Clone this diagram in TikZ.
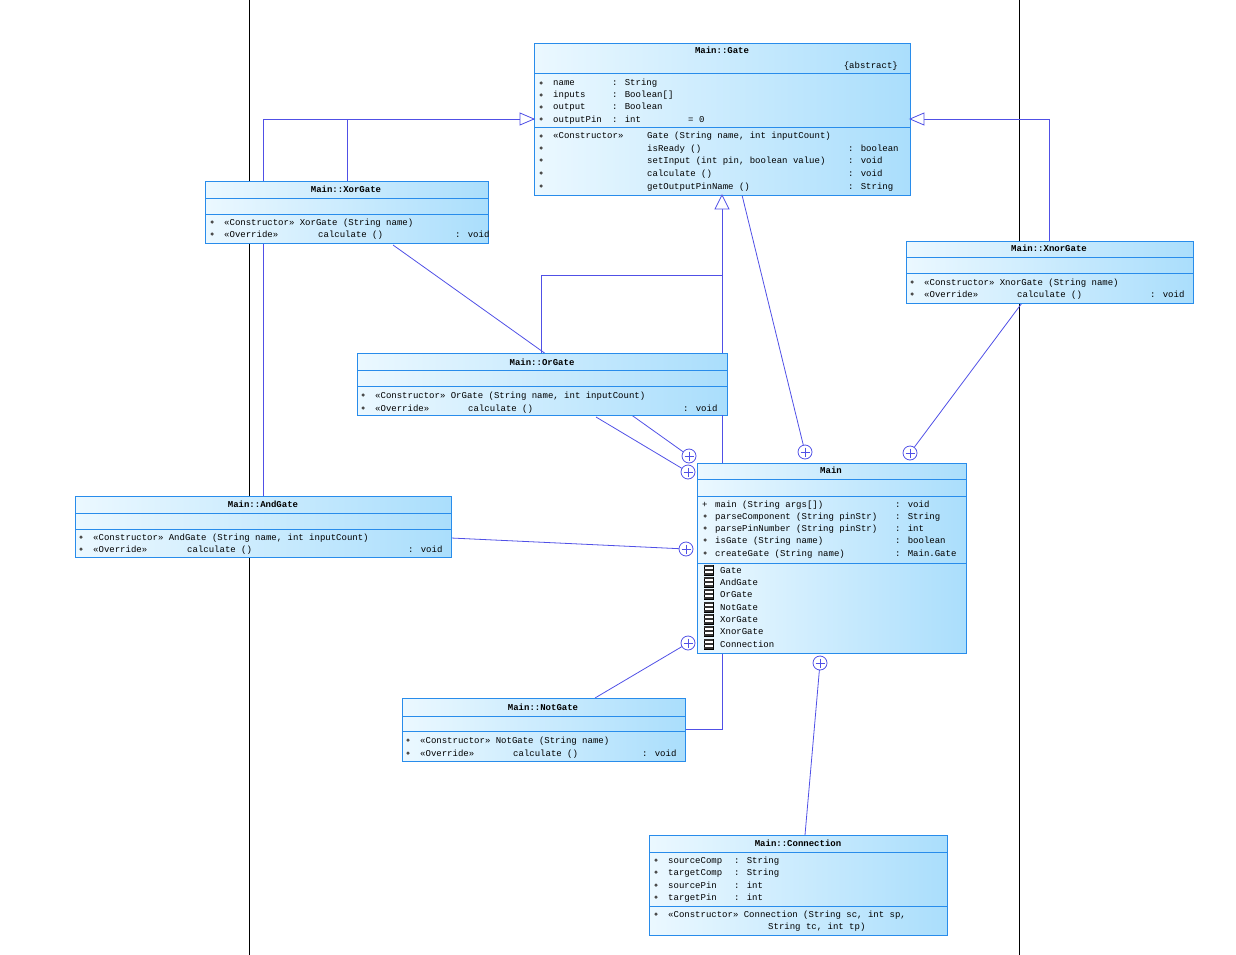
\documentclass[tikz,border=0pt]{standalone}
\usepackage{fontspec}
\usetikzlibrary{calc}
\setmainfont{Liberation Mono}
\begin{document}
\definecolor{bord}{RGB}{40,140,235}
\definecolor{lnk}{RGB}{80,80,230}
\definecolor{lL}{RGB}{235,248,255}
\definecolor{lR}{RGB}{170,222,252}
\tikzset{box/.style={draw=bord,line width=1pt,left color=lL,right color=lR,rectangle,inner sep=0,anchor=north west},
 sep/.style={draw=bord,line width=1pt},
 link/.style={draw=lnk,line width=0.8pt},
 tri/.style={draw=lnk,fill=white,line width=0.8pt},
 tx/.style={anchor=base west,inner sep=0,font=\fontsize{9}{10}\selectfont},
 ti/.style={anchor=base,inner sep=0,font=\fontsize{9}{10}\selectfont\bfseries},
 bul/.style={fill=black!70,circle,inner sep=0,minimum size=3.5pt}}
\newcommand\tl[3]{\node[tx] at (#1,#2+3) {#3};}
\newcommand\bu[2]{\node[bul] at (#1,#2) {};}
\newcommand\ubox[5]{\node[box,minimum width=#4-#2,minimum height=#5-#3] (#1) at (#2,#3) {};}
\newcommand\hsep[3]{\draw[sep] (#1,#3)--(#2,#3);}
\newcommand\nest[1]{\draw[lnk,line width=0.8pt,fill=white] (#1) circle (7); \draw[lnk,line width=0.8pt] ($(#1)+(-4.5,0)$)--($(#1)+(4.5,0)$) ($(#1)+(0,-4.5)$)--($(#1)+(0,4.5)$);}
\newcommand\ico[2]{\draw[black,fill=white,line width=0.6pt] (#1,#2-5) rectangle (#1+9,#2+5); \fill[black!80] (#1,#2-5) rectangle (#1+9,#2-3); \fill[black!80] (#1,#2-1) rectangle (#1+9,#2+1);\fill[black!80] (#1,#2+3) rectangle (#1+9,#2+5);}
\begin{tikzpicture}[x=1pt,y=-1pt]
\useasboundingbox (0,0) rectangle (1236,955);
\draw[black,line width=0.8pt] (249,0)--(249,955) (1019,0)--(1019,955);
% coordinates
\coordinate (gL) at (534,119); \coordinate (gR) at (910,119); \coordinate (gB) at (722,195);
\coordinate (mXor) at (689,456); \coordinate (mOr) at (688,472); \coordinate (mAnd) at (686,549);
\coordinate (mNot) at (688,643); \coordinate (mCon) at (820,663); \coordinate (mGate) at (805,452); \coordinate (mXnor) at (910,453);
% generalization links
\draw[link] (263,496)--(263,119)--(gL); \draw[link] (347,181)--(347,119);
\draw[link] (1049,241)--(1049,119)--(gR);
\draw[link] (541,353)--(541,275)--(722,275); \draw[link] (685,729)--(722,729)--(gB);
% nesting links
\draw[link] (742,195)--(mGate); \draw[link] (1022,303)--(mXnor);
\draw[link] (393,245)--(mXor); \draw[link] (596,417)--(mOr);
\draw[link] (451,538)--(mAnd); \draw[link] (595,698)--(mNot); \draw[link] (805,835)--(mCon);
% Gate
\ubox{gate}{534}{43}{910}{195}\hsep{534}{910}{74}\hsep{534}{910}{128}
\node[ti] at (722,54) {Main::Gate}; \node[tx,anchor=base east] at (898,69) {\{abstract\}};
\foreach \y/\a/\b in {83/name/: String,95/inputs/: Boolean[],107/output/: Boolean,119/outputPin/: int}{\bu{541}{\y}\tl{553}{\y}{\a}\tl{612}{\y}{\b}}
\tl{688}{119}{= 0}
\foreach \y in {136,148,160,173,186}{\bu{541}{\y}}
\tl{553}{136}{<<Constructor>>}\tl{647}{136}{Gate (String name, int inputCount)}
\tl{647}{148}{isReady ()}\tl{848}{148}{: boolean}
\tl{647}{160}{setInput (int pin, boolean value)}\tl{848}{160}{: void}
\tl{647}{173}{calculate ()}\tl{848}{173}{: void}
\tl{647}{186}{getOutputPinName ()}\tl{848}{186}{: String}
\draw[tri] (gL)--++(-14,-6)--++(0,12)--cycle;
\draw[tri] (gR)--++(14,-6)--++(0,12)--cycle;
\draw[tri] (gB)--++(-7,14)--++(14,0)--cycle;
% XorGate
\ubox{xor}{205}{181}{488}{243}\hsep{205}{488}{198}\hsep{205}{488}{214}
\node[ti] at (346,192) {Main::XorGate};
\bu{212}{222}\bu{212}{234}\tl{224}{222}{<<Constructor>> XorGate (String name)}\tl{224}{234}{<<Override>>}\tl{318}{234}{calculate ()}\tl{455}{234}{: void}
% XnorGate
\ubox{xnor}{906}{241}{1193}{303}\hsep{906}{1193}{257}\hsep{906}{1193}{273}
\node[ti] at (1049,251) {Main::XnorGate};
\bu{912}{282}\bu{912}{294}\tl{924}{282}{<<Constructor>> XnorGate (String name)}\tl{924}{294}{<<Override>>}\tl{1017}{294}{calculate ()}\tl{1150}{294}{: void}
% OrGate
\ubox{or}{357}{353}{727}{415}\hsep{357}{727}{370}\hsep{357}{727}{386}
\node[ti] at (542,365) {Main::OrGate};
\bu{363}{395}\bu{363}{408}\tl{375}{395}{<<Constructor>> OrGate (String name, int inputCount)}\tl{375}{408}{<<Override>>}\tl{468}{408}{calculate ()}\tl{683}{408}{: void}
% AndGate
\ubox{and}{75}{496}{451}{557}\hsep{75}{451}{513}\hsep{75}{451}{529}
\node[ti] at (263,507) {Main::AndGate};
\bu{81}{537}\bu{81}{549}\tl{93}{537}{<<Constructor>> AndGate (String name, int inputCount)}\tl{93}{549}{<<Override>>}\tl{187}{549}{calculate ()}\tl{408}{549}{: void}
% Main
\draw[link] (722,415)--(722,463); \draw[link] (722,653)--(722,729);
\ubox{main}{697}{463}{966}{653}\hsep{697}{966}{479}\hsep{697}{966}{496}\hsep{697}{966}{563}
\node[ti] at (831,473) {Main};
\tl{702}{504}{+}\foreach \y in {516,528,540,553}{\bu{705}{\y}}
\tl{715}{504}{main (String args[])}\tl{895}{504}{: void}
\tl{715}{516}{parseComponent (String pinStr)}\tl{895}{516}{: String}
\tl{715}{528}{parsePinNumber (String pinStr)}\tl{895}{528}{: int}
\tl{715}{540}{isGate (String name)}\tl{895}{540}{: boolean}
\tl{715}{553}{createGate (String name)}\tl{895}{553}{: Main.Gate}
\foreach \y/\n in {570/Gate,582/AndGate,594/OrGate,607/NotGate,619/XorGate,631/XnorGate,644/Connection}{\ico{704}{\y}\tl{720}{\y}{\n}}
% NotGate
\ubox{not}{402}{698}{685}{761}\hsep{402}{685}{716}\hsep{402}{685}{731}
\node[ti] at (543,710) {Main::NotGate};
\bu{408}{740}\bu{408}{753}\tl{420}{740}{<<Constructor>> NotGate (String name)}\tl{420}{753}{<<Override>>}\tl{513}{753}{calculate ()}\tl{642}{753}{: void}
% Connection
\ubox{con}{649}{835}{947}{935}\hsep{649}{947}{852}\hsep{649}{947}{906}
\node[ti] at (798,846) {Main::Connection};
\foreach \y/\a/\b in {860/sourceComp/: String,872/targetComp/: String,885/sourcePin/: int,897/targetPin/: int}{\bu{656}{\y}\tl{668}{\y}{\a}\tl{734}{\y}{\b}}
\bu{656}{914}\tl{668}{914}{<<Constructor>> Connection (String sc, int sp,}\tl{768}{926}{String tc, int tp)}
% nesting circles
\nest{mXor}\nest{mOr}\nest{mAnd}\nest{mNot}\nest{mCon}\nest{mGate}\nest{mXnor}
\end{tikzpicture}
\end{document}
